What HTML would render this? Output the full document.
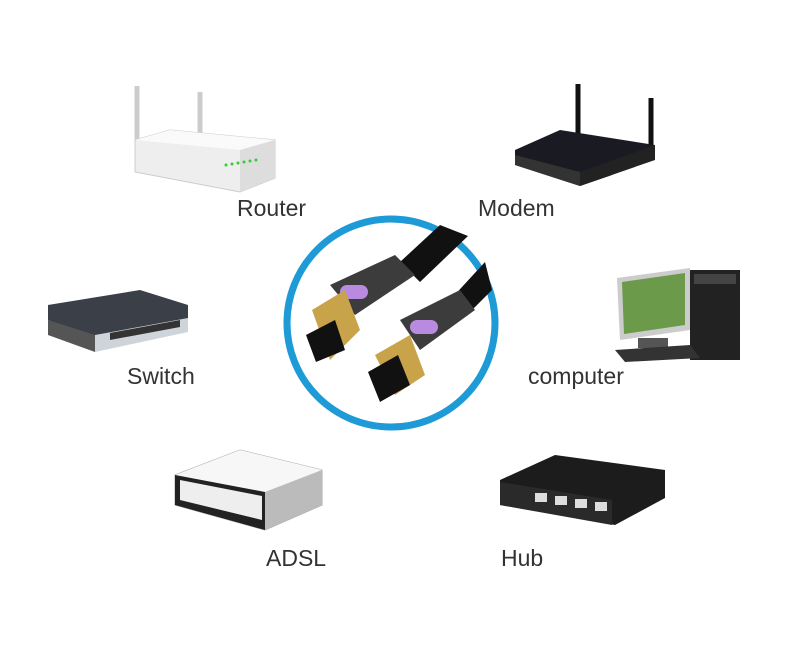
<!DOCTYPE html>
<html><head><meta charset="utf-8"><style>
html,body{margin:0;padding:0;background:#fff;width:799px;height:647px;overflow:hidden}
svg{display:block}
text{font-family:"Liberation Sans",sans-serif;font-size:23px;fill:#333}
</style></head><body>
<svg width="799" height="647" viewBox="0 0 799 647">
<!-- Router -->
<line x1="137" y1="86" x2="137" y2="145" stroke="#ccc" stroke-width="5"/>
<line x1="200" y1="92" x2="200" y2="145" stroke="#ccc" stroke-width="5"/>
<polygon points="135,140 170,130 275,140 275,178 240,192 135,172" fill="#eee" stroke="#ccc"/>
<polygon points="135,140 170,130 275,140 240,150" fill="#fafafa"/>
<polygon points="240,150 275,140 275,178 240,192" fill="#ddd"/>
<g fill="#3c3">
<circle cx="226" cy="165" r="1.5"/><circle cx="232" cy="164" r="1.5"/><circle cx="238" cy="163" r="1.5"/><circle cx="244" cy="162" r="1.5"/><circle cx="250" cy="161" r="1.5"/><circle cx="256" cy="160" r="1.5"/></g>
<text x="237" y="216">Router</text>
<!-- Modem -->
<line x1="578" y1="84" x2="578" y2="142" stroke="#111" stroke-width="5"/>
<line x1="651" y1="98" x2="651" y2="150" stroke="#111" stroke-width="5"/>
<polygon points="515,150 560,130 655,145 612,175 580,186 515,165" fill="#1a1a22"/>
<polygon points="515,155 580,172 580,186 515,165" fill="#333"/>
<polygon points="580,172 655,145 655,160 580,186" fill="#222"/>
<text x="478" y="216">Modem</text>
<!-- Switch -->
<polygon points="48,305 140,290 188,305 188,320 95,340 48,320" fill="#3a3f48"/>
<polygon points="48,320 95,335 95,352 48,335" fill="#555"/>
<polygon points="95,335 188,318 188,332 95,352" fill="#cfd4da"/>
<polygon points="110,333 180,320 180,327 110,340" fill="#333"/>
<text x="127" y="384">Switch</text>
<!-- Computer -->
<rect x="690" y="270" width="50" height="90" fill="#222"/>
<rect x="694" y="274" width="42" height="10" fill="#444"/>
<polygon points="617,278 690,268 690,330 620,340" fill="#ccc"/>
<polygon points="622,282 685,273 685,325 624,334" fill="#6a9a4a"/>
<rect x="638" y="338" width="30" height="10" fill="#555"/>
<polygon points="615,350 690,345 700,358 625,362" fill="#333"/>
<text x="528" y="384">computer</text>
<!-- Center circle -->
<circle cx="391" cy="323" r="104" fill="#fff" stroke="#1e9ad6" stroke-width="7"/>
<polygon points="400,262 440,225 468,236 420,282" fill="#111"/>
<polygon points="450,300 485,262 492,290 470,312" fill="#111"/>
<polygon points="330,285 395,255 415,275 355,315" fill="#3c3c3c"/>
<rect x="340" y="285" width="28" height="14" rx="7" fill="#b98be0"/>
<polygon points="312,310 345,290 360,330 330,360" fill="#c9a34a"/>
<polygon points="306,335 335,320 345,350 316,362" fill="#111"/>
<polygon points="400,320 460,290 475,310 420,350" fill="#3c3c3c"/>
<rect x="410" y="320" width="28" height="14" rx="7" fill="#b98be0"/>
<polygon points="375,355 410,335 425,375 395,395" fill="#c9a34a"/>
<polygon points="368,372 398,355 410,385 380,402" fill="#111"/>
<!-- ADSL -->
<polygon points="175,475 240,450 322,470 322,505 265,530 175,505" fill="#e8e8e8" stroke="#aaa"/>
<polygon points="175,475 240,450 322,470 265,492" fill="#f7f7f7"/>
<polygon points="265,492 322,470 322,505 265,530" fill="#bbb"/>
<polygon points="175,475 265,492 265,530 175,505" fill="#222"/>
<polygon points="180,480 262,496 262,520 180,500" fill="#eee"/>
<text x="266" y="566">ADSL</text>
<!-- Hub -->
<polygon points="500,480 555,455 665,470 665,498 615,525 500,505" fill="#1c1c1c"/>
<polygon points="500,482 612,500 612,525 500,505" fill="#2a2a2a"/>
<g fill="#ddd"><rect x="535" y="493" width="12" height="9"/><rect x="555" y="496" width="12" height="9"/><rect x="575" y="499" width="12" height="9"/><rect x="595" y="502" width="12" height="9"/></g>
<text x="501" y="566">Hub</text>
</svg>
</body></html>
